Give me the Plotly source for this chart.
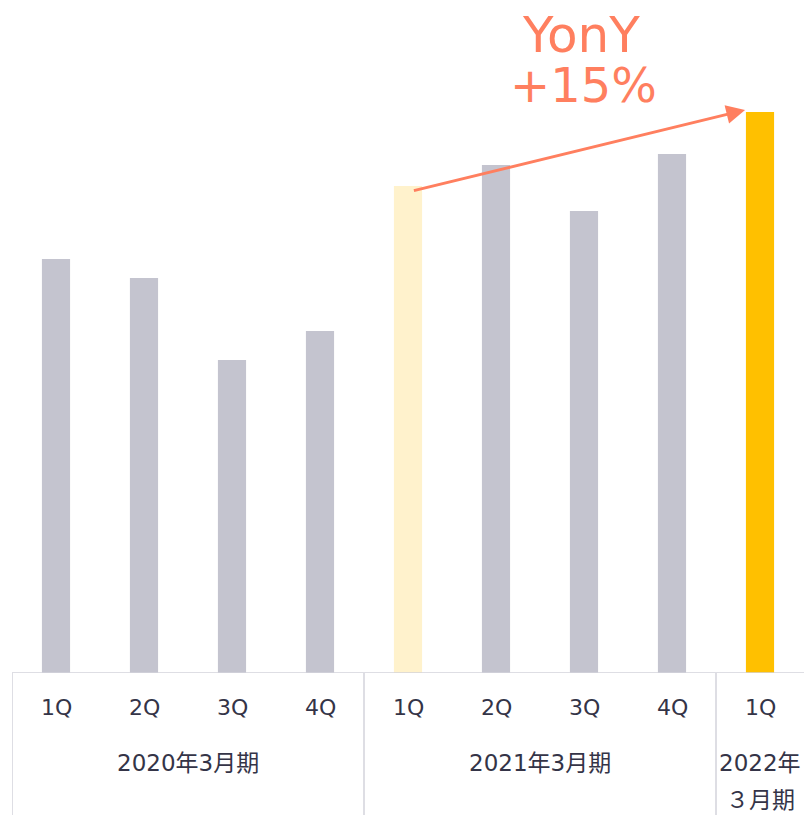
import plotly.graph_objects as go

# ---- data ----
quarters = ["1Q", "2Q", "3Q", "4Q", "1Q", "2Q", "3Q", "4Q", "1Q"]
values = [414, 395, 313, 342, 487, 508, 462, 519, 561]
bar_colors = ["#C4C4CF", "#C4C4CF", "#C4C4CF", "#C4C4CF", "#FFF2CC",
              "#C4C4CF", "#C4C4CF", "#C4C4CF", "#FFC000"]
groups = [["2020年3月期"], ["2021年3月期"], ["2022年", "３月期"]]
group_centers = [1.5, 5.5, 8.0]
group_dividers = [-0.5, 3.5, 7.5]
yony_text = ["YonY", "+15%"]

W, H = 804, 815
ML, MR, MT, MB = 12, 0, 8, 142
plot_h = H - MT - MB

FONT = "DejaVu Sans, Noto Sans CJK JP, sans-serif"
TXT = "#343447"
LINE = "#D3D3DB"
ORANGE = "#FF7F5F"

x = list(range(len(values)))
bar_w = 0.32

fig = go.Figure(go.Bar(x=x, y=values, marker_color=bar_colors, marker_line_width=0,
                       width=bar_w, hoverinfo="skip"))

shapes = []
# baseline
shapes.append(dict(type="line", xref="paper", yref="y", x0=0, x1=1, y0=0, y1=0,
                   line=dict(color=LINE, width=1.5)))
# dividers
for d in group_dividers:
    shapes.append(dict(type="line", xref="x", yref="paper", x0=d, x1=d,
                       y0=0, y1=-MB / plot_h, line=dict(color=LINE, width=1.5)))

ann = []
for xi, q in zip(x, quarters):
    ann.append(dict(x=xi, y=0, xref="x", yref="paper", text=q, showarrow=False,
                    yanchor="middle", yshift=-34, font=dict(family=FONT, size=22, color=TXT)))
for gc, lines in zip(group_centers, groups):
    for k, g in enumerate(lines):
        ann.append(dict(x=gc, y=0, xref="x", yref="paper", text=g, showarrow=False,
                        yanchor="middle", yshift=-90 - 37 * k,
                        font=dict(family=FONT, size=23, color=TXT)))

# arrow from 2021 1Q to 2022 1Q
ann.append(dict(x=8 - bar_w / 2 - 0.01, y=values[8] + 2, ax=4 + 0.05, ay=values[4] - 5,
                xref="x", yref="y", axref="x", ayref="y", showarrow=True, text="",
                arrowhead=2, arrowsize=1.25, arrowwidth=3, arrowcolor=ORANGE, standoff=0))
ann.append(dict(x=5.97, y=plot_h - 26.5, xref="x", yref="y", text=yony_text[0], showarrow=False,
                yanchor="middle", font=dict(family=FONT, size=50, color=ORANGE)))
ann.append(dict(x=5.99, y=plot_h - 77, xref="x", yref="y", text=yony_text[1], showarrow=False,
                yanchor="middle", font=dict(family=FONT, size=48, color=ORANGE)))

fig.update_layout(
    width=W, height=H,
    margin=dict(l=ML, r=MR, t=MT, b=MB),
    paper_bgcolor="white", plot_bgcolor="white",
    showlegend=False,
    xaxis=dict(range=[-0.5, 8.5], showticklabels=False, showgrid=False, zeroline=False,
               showline=False, fixedrange=True),
    yaxis=dict(range=[0, plot_h], visible=False, fixedrange=True),
    shapes=shapes, annotations=ann,
)

fig.write_html("out.html", config={"displayModeBar": False},
               post_script="document.body.style.margin='0';document.body.style.overflow='hidden';")
